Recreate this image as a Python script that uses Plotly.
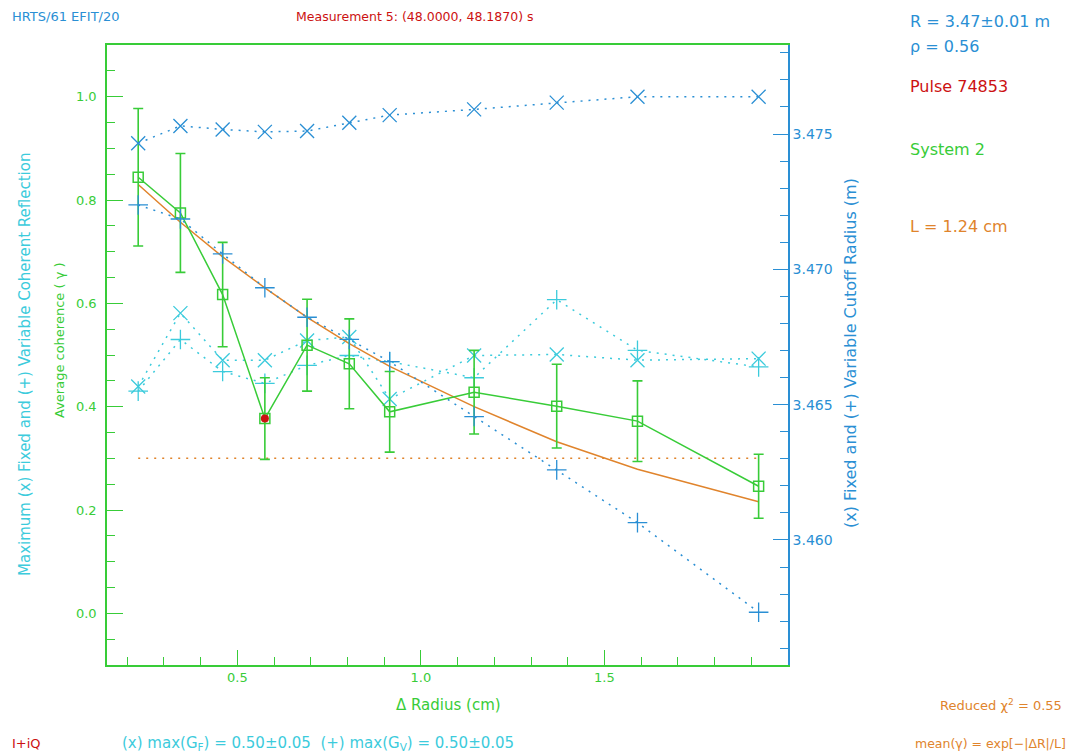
import plotly.graph_objects as go

# ---- data ----
delta_radius = [0.23, 0.345, 0.46, 0.575, 0.69, 0.805, 0.915, 1.145, 1.37, 1.59, 1.92]

avg_coherence = [0.844, 0.775, 0.617, 0.377, 0.519, 0.483, 0.390, 0.428, 0.401, 0.372, 0.246]
coherence_err = [0.133, 0.115, 0.101, 0.079, 0.089, 0.087, 0.078, 0.081, 0.081, 0.078, 0.062]

fit_values = [0.830, 0.757, 0.690, 0.630, 0.573, 0.522, 0.478, 0.400, 0.332, 0.279, 0.216]
threshold = 0.30

fixed_reflection = [0.439, 0.581, 0.490, 0.490, 0.528, 0.535, 0.415, 0.499, 0.501, 0.490, 0.493]
variable_reflection = [0.430, 0.530, 0.468, 0.445, 0.480, 0.499, 0.487, 0.456, 0.607, 0.509, 0.477]

fixed_cutoff = [3.47466, 3.47530, 3.47517, 3.47508, 3.47511, 3.47542, 3.47570, 3.47591, 3.47616, 3.47638, 3.47638]
variable_cutoff = [3.47238, 3.47186, 3.47057, 3.46932, 3.46823, 3.46741, 3.46659, 3.46456, 3.46259, 3.46064, 3.45733]

selected_index = 3

# ---- styling ----
GREEN = "#38cc38"
BLUE = "#2a8fd4"
CYAN = "#3ccbdc"
ORANGE = "#e0842c"
RED = "#cc1111"
FONT = "DejaVu Sans"

L, R, T, B = 107, 1074 - 788, 45, 753 - 665
W, H = 1074 - L - R, 753 - T - B


def px(x):
    return (x - L) / W


def py(y):
    return (753 - B - y) / H


fig = go.Figure()

dot = "2px,6px"

fig.add_trace(go.Scatter(x=delta_radius, y=fixed_reflection, mode="lines+markers",
                         line=dict(color=CYAN, width=1.5, dash=dot),
                         marker=dict(symbol="x-thin-open", size=14, line=dict(color=CYAN, width=1.3)),
                         showlegend=False))
fig.add_trace(go.Scatter(x=delta_radius, y=variable_reflection, mode="lines+markers",
                         line=dict(color=CYAN, width=1.5, dash=dot),
                         marker=dict(symbol="cross-thin-open", size=14, line=dict(color=CYAN, width=1.3)),
                         showlegend=False))
fig.add_trace(go.Scatter(x=delta_radius, y=fixed_cutoff, mode="lines+markers", yaxis="y2",
                         line=dict(color=BLUE, width=1.5, dash=dot),
                         marker=dict(symbol="x-thin-open", size=14, line=dict(color=BLUE, width=1.3)),
                         showlegend=False))
fig.add_trace(go.Scatter(x=delta_radius, y=variable_cutoff, mode="lines+markers", yaxis="y2",
                         line=dict(color=BLUE, width=1.5, dash=dot),
                         marker=dict(symbol="cross-thin-open", size=14, line=dict(color=BLUE, width=1.3)),
                         showlegend=False))

fig.add_trace(go.Scatter(x=[delta_radius[0], delta_radius[-1]], y=[threshold, threshold], mode="lines",
                         line=dict(color=ORANGE, width=1.5, dash="2px,6px"), showlegend=False))
fig.add_trace(go.Scatter(x=delta_radius, y=fit_values, mode="lines",
                         line=dict(color=ORANGE, width=1.5), showlegend=False))

fig.add_trace(go.Scatter(x=delta_radius, y=avg_coherence, mode="lines+markers",
                         line=dict(color=GREEN, width=1.5),
                         marker=dict(symbol="square-open", size=10, line=dict(color=GREEN, width=1.5)),
                         error_y=dict(type="data", array=coherence_err, visible=True,
                                      color=GREEN, thickness=1.6, width=5),
                         showlegend=False))
fig.add_trace(go.Scatter(x=[delta_radius[selected_index]], y=[avg_coherence[selected_index]], mode="markers",
                         marker=dict(symbol="circle", size=8, color=RED), showlegend=False))

fig.update_layout(
    width=1074, height=753,
    margin=dict(l=L, r=R, t=T, b=B, autoexpand=False),
    paper_bgcolor="white", plot_bgcolor="white",
    font=dict(family=FONT, size=12),
    xaxis=dict(range=[0.145, 2.0], tickvals=[0.5, 1.0, 1.5], tickformat=".1f",
               ticks="inside", ticklen=15, tickwidth=1.3, tickcolor=GREEN,
               minor=dict(dtick=0.1, tick0=0, ticks="inside", ticklen=8, tickcolor=GREEN, tickwidth=1.2),
               showline=True, linecolor=GREEN, linewidth=1.5, mirror=True,
               showgrid=False, zeroline=False,
               tickfont=dict(color=GREEN, size=13, family=FONT)),
    yaxis=dict(range=[-0.1, 1.1], tickvals=[0.0, 0.2, 0.4, 0.6, 0.8, 1.0], tickformat=".1f",
               ticks="inside", ticklen=16, tickwidth=1.3, tickcolor=GREEN,
               minor=dict(dtick=0.05, tick0=0, ticks="inside", ticklen=8, tickcolor=GREEN, tickwidth=1.2),
               showline=True, linecolor=GREEN, linewidth=1.5, mirror=False,
               showgrid=False, zeroline=False, ticklabelstandoff=6,
               tickfont=dict(color=GREEN, size=13, family=FONT)),
    yaxis2=dict(range=[3.45538, 3.47829], overlaying="y", side="right",
                tickvals=[3.460, 3.465, 3.470, 3.475], tickformat=".3f",
                ticks="inside", ticklen=15, tickwidth=1.3, tickcolor=BLUE,
                minor=dict(dtick=0.001, tick0=3.46, ticks="inside", ticklen=8, tickcolor=BLUE, tickwidth=1.2),
                showline=True, linecolor=BLUE, linewidth=1.5,
                showgrid=False, zeroline=False,
                tickfont=dict(color=BLUE, size=14, family=FONT)),
)

annotations = [
    dict(text="HRTS/61 EFIT/20", x=px(10), y=py(17), xanchor="left", color=BLUE, size=13),
    dict(text="Measurement 5: (48.0000, 48.1870) s", x=px(415), y=py(17), xanchor="center", color=RED, size=12.5),
    dict(text="R = 3.47±0.01 m", x=px(908), y=py(22), xanchor="left", color=BLUE, size=16),
    dict(text="ρ = 0.56", x=px(908), y=py(47), xanchor="left", color=BLUE, size=16),
    dict(text="Pulse 74853", x=px(908), y=py(86), xanchor="left", color=RED, size=16),
    dict(text="System 2", x=px(908), y=py(149), xanchor="left", color=GREEN, size=16),
    dict(text="L = 1.24 cm", x=px(908), y=py(226), xanchor="left", color=ORANGE, size=16),
    dict(text="Reduced χ<sup>2</sup> = 0.55", x=px(1064), y=py(705), xanchor="right", color=ORANGE, size=13),
    dict(text="mean(γ) = exp[−|ΔR|/L]", x=px(1068), y=py(743), xanchor="right", color=ORANGE, size=12.5),
    dict(text="I+iQ", x=px(10), y=py(743), xanchor="left", color=RED, size=13),
    dict(text="(x) max(G<sub>F</sub>) = 0.50±0.05  (+) max(G<sub>V</sub>) = 0.50±0.05",
         x=px(120), y=py(743), xanchor="left", color=CYAN, size=15),
    dict(text="Δ Radius (cm)", x=px(448), y=py(705), xanchor="center", color=GREEN, size=15),
]
for a in annotations:
    fig.add_annotation(text=a["text"], x=a["x"], y=a["y"], xref="paper", yref="paper",
                       xanchor=a["xanchor"], yanchor="middle", showarrow=False,
                       font=dict(color=a["color"], size=a["size"], family=FONT))

rotated = [
    dict(text="Maximum (x) Fixed and (+) Variable Coherent Reflection", x=px(25), y=py(365), color=CYAN, size=15),
    dict(text="Average coherence ( γ )", x=px(59), y=py(340), color=GREEN, size=13),
    dict(text="(x) Fixed and (+) Variable Cutoff Radius (m)", x=px(850), y=py(353), color=BLUE, size=16),
]
for a in rotated:
    fig.add_annotation(text=a["text"], x=a["x"], y=a["y"], xref="paper", yref="paper",
                       xanchor="center", yanchor="middle", textangle=-90, showarrow=False,
                       font=dict(color=a["color"], size=a["size"], family=FONT))

fig.write_html("out.html",
               config={"displayModeBar": False},
               post_script="document.body.style.margin='0';document.body.style.padding='0';"
                           "document.body.style.overflow='hidden';")
